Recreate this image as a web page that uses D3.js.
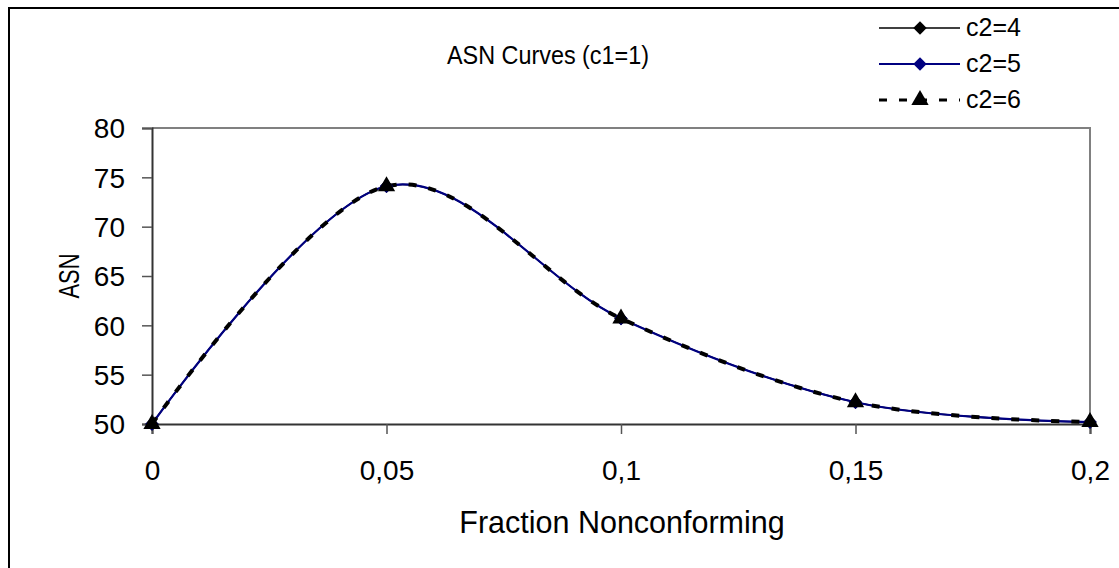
<!DOCTYPE html>
<html>
<head>
<meta charset="utf-8">
<script src="https://cdn.jsdelivr.net/npm/d3@7"></script>
<style>
  body { margin: 0; background: #fff; }
  text { font-family: 'Liberation Sans', Arial, sans-serif; fill: #000; }
</style>
</head>
<body>
<div id="chart"></div>
<script>
const fractions = [0, 0.05, 0.1, 0.15, 0.2];
const asnC2_4 = [50, 74.1, 60.7, 52.2, 50.2];
const asnC2_5 = [50, 74.1, 60.7, 52.2, 50.2];
const asnC2_6 = [50, 74.1, 60.7, 52.2, 50.2];
const xTicks = [0, 0.05, 0.1, 0.15, 0.2];
const yTicks = [50, 55, 60, 65, 70, 75, 80];

const width = 1119;
const height = 568;
const plot = { left: 152, right: 1090, top: 128, bottom: 424 };

// square diamond (equal width and height) like the spreadsheet marker
const diamond = {
  draw(ctx, size) {
    const r = Math.sqrt(size / 2);
    ctx.moveTo(0, -r); ctx.lineTo(r, 0); ctx.lineTo(0, r); ctx.lineTo(-r, 0); ctx.closePath();
  }
};

const series = [
  { name: 'c2=4', values: asnC2_4, color: '#000', width: 1.5, dash: null, marker: diamond, size: 90 },
  { name: 'c2=5', values: asnC2_5, color: '#000080', width: 2.2, dash: null, marker: diamond, size: 90 },
  { name: 'c2=6', values: asnC2_6, color: '#000', width: 4, dash: '8,12', marker: d3.symbolTriangle, size: 130 }
];

const svg = d3.select('#chart')
  .append('svg')
  .attr('width', width)
  .attr('height', height);

// chart border
svg.append('rect')
  .attr('x', 9).attr('y', 8)
  .attr('width', 1300).attr('height', 800)
  .attr('fill', '#fff')
  .attr('stroke', '#000')
  .attr('stroke-width', 2);

const x = d3.scaleLinear().domain([0, 0.2]).range([plot.left, plot.right]);
const y = d3.scaleLinear().domain([50, 80]).range([plot.bottom, plot.top]);

// plot area frame (gray top/right)
svg.append('path')
  .attr('d', `M${plot.left},${plot.top}H${plot.right}V${plot.bottom}`)
  .attr('fill', 'none')
  .attr('stroke', '#808080')
  .attr('stroke-width', 2);

const fmt = d => String(d).replace('.', ',');

const xAxis = svg.append('g')
  .attr('transform', `translate(0,${plot.bottom})`)
  .call(d3.axisBottom(x).tickValues(xTicks).tickFormat(fmt).tickSize(10).tickPadding(26));
const yAxis = svg.append('g')
  .attr('transform', `translate(${plot.left},0)`)
  .call(d3.axisLeft(y).tickValues(yTicks).tickSize(10).tickPadding(17));

[xAxis, yAxis].forEach(g => {
  g.select('.domain').attr('stroke', '#333').attr('stroke-width', 2);
  g.selectAll('.tick line').attr('stroke', '#555').attr('stroke-width', 1.5);
  g.selectAll('.tick text')
    .style('font-family', "'Liberation Sans', Arial, sans-serif")
    .style('font-size', '28px')
    .attr('fill', '#000');
});
yAxis.selectAll('.tick text').attr('dy', '0.35em');

const line = d3.line()
  .x((d, i) => x(fractions[i]))
  .y(d => y(d))
  .curve(d3.curveCatmullRom.alpha(0));

series.forEach(s => {
  svg.append('path')
    .datum(s.values)
    .attr('d', line)
    .attr('fill', 'none')
    .attr('stroke', s.color)
    .attr('stroke-width', s.width)
    .attr('stroke-dasharray', s.dash);
});

series.forEach(s => {
  svg.append('g')
    .selectAll('path')
    .data(s.values)
    .join('path')
    .attr('transform', (d, i) => `translate(${x(fractions[i])},${y(d)})`)
    .attr('d', d3.symbol().type(s.marker).size(s.size))
    .attr('fill', s.color);
});

// titles
svg.append('text')
  .attr('x', 548).attr('y', 64)
  .attr('text-anchor', 'middle')
  .attr('textLength', 202)
  .attr('lengthAdjust', 'spacingAndGlyphs')
  .style('font-size', '26px')
  .text('ASN Curves (c1=1)');

svg.append('text')
  .attr('x', (plot.left + plot.right) / 2 + 1).attr('y', 533)
  .attr('text-anchor', 'middle')
  .style('font-size', '30.5px')
  .text('Fraction Nonconforming');

svg.append('text')
  .attr('transform', `translate(79,${(plot.top + plot.bottom) / 2}) rotate(-90)`)
  .attr('text-anchor', 'middle')
  .attr('textLength', 45)
  .attr('lengthAdjust', 'spacingAndGlyphs')
  .style('font-size', '29px')
  .text('ASN');

// legend
const legend = svg.append('g')
  .selectAll('g')
  .data(series)
  .join('g')
  .attr('transform', (d, i) => `translate(879,${28 + i * 36})`);

legend.append('line')
  .attr('x1', 0).attr('x2', 81)
  .attr('stroke', d => d.color)
  .attr('stroke-width', d => Math.min(d.width, 3))
  .attr('stroke-dasharray', d => d.dash);

legend.append('path')
  .attr('transform', 'translate(41,0)')
  .attr('d', d => d3.symbol().type(d.marker).size(d.size)())
  .attr('fill', d => d.color);

legend.append('text')
  .attr('x', 87).attr('y', 8)
  .style('font-size', '25px')
  .text(d => d.name);
</script>
</body>
</html>
